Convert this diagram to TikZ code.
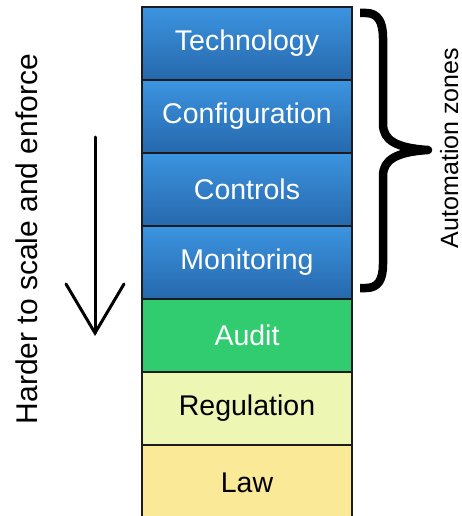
\documentclass[tikz,border=0pt]{standalone}
\usepackage{fontspec}
\setmainfont{Liberation Sans}
\definecolor{bluetop}{RGB}{60,148,224}
\definecolor{bluebot}{RGB}{38,104,172}
\definecolor{auditgreen}{RGB}{50,204,112}
\definecolor{reggreen}{RGB}{238,246,180}
\definecolor{lawyellow}{RGB}{250,234,152}
\definecolor{edgecol}{RGB}{28,28,32}
\tikzset{
  layer/.style={draw=edgecol, line width=2pt, minimum width=210pt, minimum height=73pt, inner sep=0pt,
    font=\fontsize{28.5}{30}\selectfont},
  bluelayer/.style={layer, top color=bluetop, bottom color=bluebot, text=white},
  sidelabel/.style={rotate=90, anchor=base, inner sep=0pt},
}
\begin{document}
\begin{tikzpicture}[x=1pt,y=-1pt]
\useasboundingbox (0,0) rectangle (462,516);
\clip (0,0) rectangle (462,516);
\fill[white] (0,0) rectangle (462,516);
\node[bluelayer] (tech) at (247,43.5) {Technology};
\node[bluelayer] (conf) at (247,116.5) {Configuration};
\node[bluelayer] (ctrl) at (247,189.5) {Controls};
\node[bluelayer] (mon) at (247,262.5) {Monitoring};
\node[layer, fill=auditgreen, text=white] (audit) at (247,335.5) {Audit};
\node[layer, fill=reggreen, text=black] (reg) at (247,408.5) {Regulation};
\node[layer, fill=lawyellow, text=black, minimum height=76pt] (law) at (247,483) {Law};
% brace
\draw[line width=8.5pt, line join=round] (360,13) -- (366,13)
  .. controls (378,13) and (383,22) .. (383,38) -- (383,124)
  .. controls (383,140) and (396,148) .. (428,150)
  .. controls (396,152) and (383,160) .. (383,176) -- (383,264)
  .. controls (383,280) and (378,288) .. (366,288) -- (360,288);
\node[sidelabel, font=\fontsize{25}{27}\selectfont] (auto) at (458,148) {Automation zones};
% arrow
\coordinate (atop) at (95,137);
\coordinate (atip) at (95,333);
\draw[line width=3pt, line cap=round, line join=miter] (atop) -- (atip);
\draw[line width=3pt, line cap=round, line join=miter] (66,284) -- (atip) -- (124,284);
\node[sidelabel, font=\fontsize{30}{32}\selectfont] (hard) at (37,239) {Harder to scale and enforce};
\end{tikzpicture}
\end{document}
